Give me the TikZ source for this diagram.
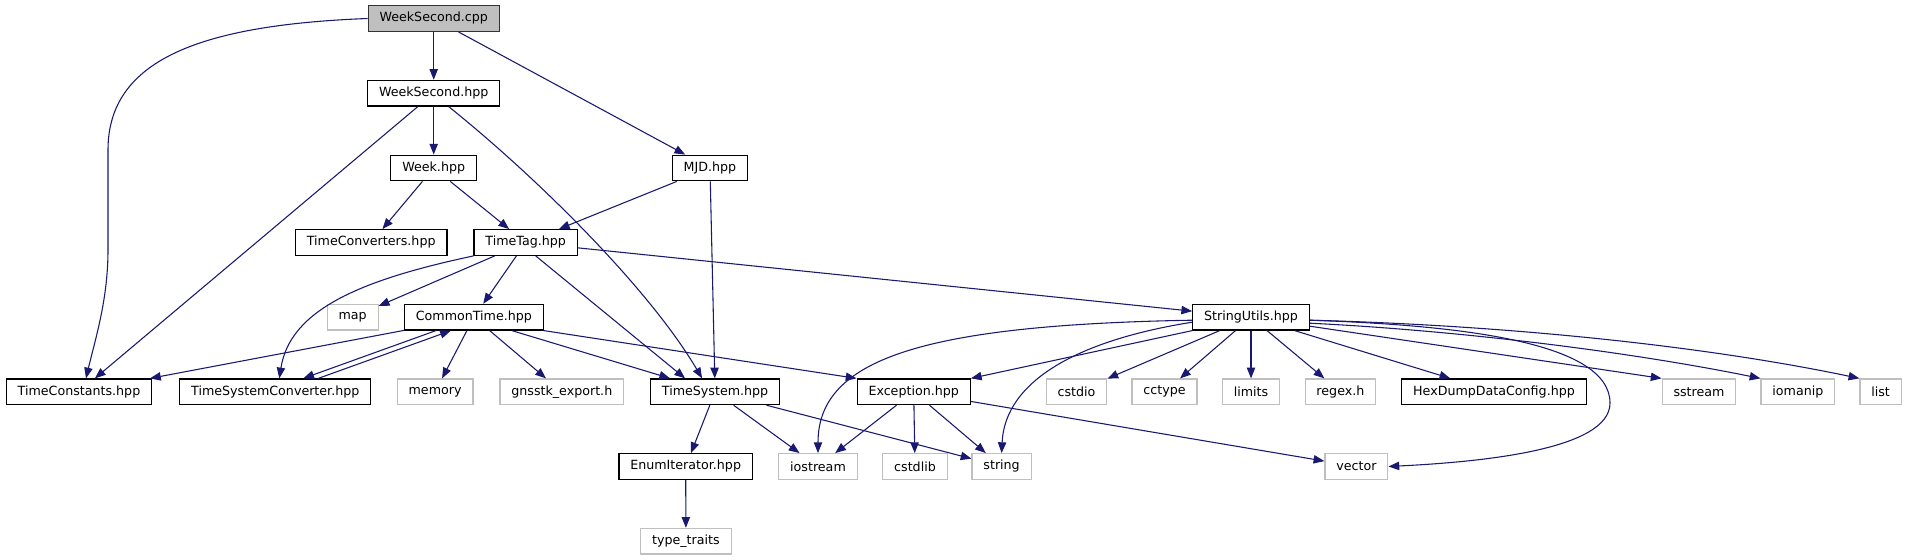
\documentclass[tikz,border=0pt]{standalone}
\usepackage{fontspec}
\setmainfont{DejaVu Sans}
\usepackage{tikz}
\usetikzlibrary{arrows.meta,calc}
\definecolor{edgeblue}{HTML}{191970}
\definecolor{extgray}{HTML}{BFBFBF}
\def \px {0.79pt}

\tikzset{
  file/.style={draw=black,line width=0.9pt,fill=white,inner xsep=9pt,inner ysep=0pt,
    minimum height=20.3pt,font=\fontsize{10pt}{12pt}\selectfont},
  root/.style={file,fill=extgray,draw=black!80},
  ext/.style={file,draw=extgray},
  dep/.style={-{Triangle[length=8.5pt,width=6.6pt]},draw=edgeblue,line width=0.85pt}
}

\begin{document}
\begin{tikzpicture}[x=\px,y=-\px]
    \useasboundingbox (0,0) rectangle (1907,560);
    % files
    \node[root] (cpp) at (433.7,18.5) {WeekSecond.cpp};
    \node[file] (wsh) at (433.7,93.2) {WeekSecond.hpp};
    \node[file] (week) at (433.7,168) {Week.hpp};
    \node[file] (mjd) at (710,168) {MJD.hpp};
    \node[file] (tconv) at (371.2,242.5) {TimeConverters.hpp};
    \node[file] (ttag) at (525.7,242.5) {TimeTag.hpp};
    \node[ext] (map) at (352.7,317.2) {map};
    \node[file] (ctime) at (473.9,317.2) {CommonTime.hpp};
    \node[file] (sutil) at (1251,317.2) {StringUtils.hpp};
    \node[file] (tconst) at (79,391.8) {TimeConstants.hpp};
    \node[file] (tsconv) at (275.3,391.8) {TimeSystemConverter.hpp};
    \node[ext] (memory) at (435.1,391.8) {memory};
    \node[ext] (gnsstk) at (561.8,391.8) {gnsstk\_export.h};
    \node[file] (tsys) at (715.1,391.8) {TimeSystem.hpp};
    \node[file] (exc) at (913.7,391.8) {Exception.hpp};
    \node[ext] (cstdio) at (1076.5,391.8) {cstdio};
    \node[ext] (cctype) at (1164.5,391.8) {cctype};
    \node[ext] (limits) at (1251,391.8) {limits};
    \node[ext] (regex) at (1340.4,391.8) {regex.h};
    \node[file] (hexdump) at (1494,391.8) {HexDumpDataConfig.hpp};
    \node[ext] (sstream) at (1699,391.8) {sstream};
    \node[ext] (iomanip) at (1797.9,391.8) {iomanip};
    \node[ext] (list) at (1880.6,391.8) {list};
    \node[file] (enumit) at (685.7,466.5) {EnumIterator.hpp};
    \node[ext] (iostream) at (818,466.5) {iostream};
    \node[ext] (cstdlib) at (915,466.5) {cstdlib};
    \node[ext] (string) at (1001.6,466.5) {string};
    \node[ext] (vector) at (1356.4,466.5) {vector};
    \node[ext] (typetr) at (685.9,541.2) {type\_traits};
    % includes
    \draw[dep] (cpp) -- (wsh);
    \draw[dep] (cpp) -- (mjd);
    \draw[dep] (cpp.west) .. controls (200,25) and (108,60) .. (108,150) -- (108,250)
        .. controls (108,300) and (95,340) .. ($(tconst.north)+(7,0)$);
    \draw[dep] (wsh) -- (week);
    \draw[dep] (wsh) -- (tconst);
    \draw[dep] ($(wsh.south)+(15,0)$) .. controls (540,180) and (650,290) .. ($(tsys.north)+(-13,0)$);
    \draw[dep] (week) -- (tconv);
    \draw[dep] (week) -- (ttag);
    \draw[dep] (mjd) -- (ttag);
    \draw[dep] (mjd) -- (tsys);
    \draw[dep] (ttag) -- (map);
    \draw[dep] (ttag) -- (ctime);
    \draw[dep] (ttag.south west) .. controls (360,280) and (290,310) .. ($(tsconv.north)+(4,0)$);
    \draw[dep] ($(ttag.south)+(10,0)$) -- ($(tsys.north)+(-30,0)$);
    \draw[dep] (ttag) -- (sutil);
    \draw[dep] (ctime) -- (tconst);
    \draw[dep] ($(ctime.south)+(-38,0)$) -- ($(tsconv.north)+(28,0)$);
    \draw[dep] ($(tsconv.north)+(43,0)$) -- ($(ctime.south)+(-23,0)$);
    \draw[dep] (ctime) -- (memory);
    \draw[dep] (ctime) -- (gnsstk);
    \draw[dep] ($(ctime.south)+(38,0)$) -- ($(tsys.north)+(-45,0)$);
    \draw[dep] (ctime.south east) -- (exc.north west);
    \draw[dep] (tsys) -- (enumit);
    \draw[dep] (tsys) -- (iostream);
    \draw[dep] (tsys) -- (string);
    \draw[dep] (enumit) -- (typetr);
    \draw[dep] (exc) -- (iostream);
    \draw[dep] (exc) -- (cstdlib);
    \draw[dep] (exc) -- (string);
    \draw[dep] (exc) -- (vector);
    \draw[dep] ($(sutil.west)+(0,3)$) .. controls (920,325) and (818,360) .. (iostream.north);
    \draw[dep] ($(sutil.west)+(0,5)$) .. controls (1080,340) and (1005,380) .. (string.north);
    \draw[dep] (sutil.south west) -- (exc.north east);
    \draw[dep] (sutil) -- (cstdio);
    \draw[dep] (sutil) -- (cctype);
    \draw[dep] (sutil) -- (limits);
    \draw[dep] (sutil) -- (regex);
    \draw[dep] (sutil) -- (hexdump);
    \draw[dep] ($(sutil.east)+(0,9)$) -- (sstream.north west);
    \draw[dep] ($(sutil.east)+(0,6)$) .. controls (1450,330) and (1620,350) .. (iomanip.north west);
    \draw[dep] ($(sutil.east)+(0,3)$) .. controls (1500,325) and (1700,345) .. (list.north west);
    \draw[dep] ($(sutil.east)+(0,3)$) .. controls (1450,325) and (1610,340) .. (1610,403)
        .. controls (1610,450) and (1480,462) .. (vector.east);
\end{tikzpicture}
\end{document}
